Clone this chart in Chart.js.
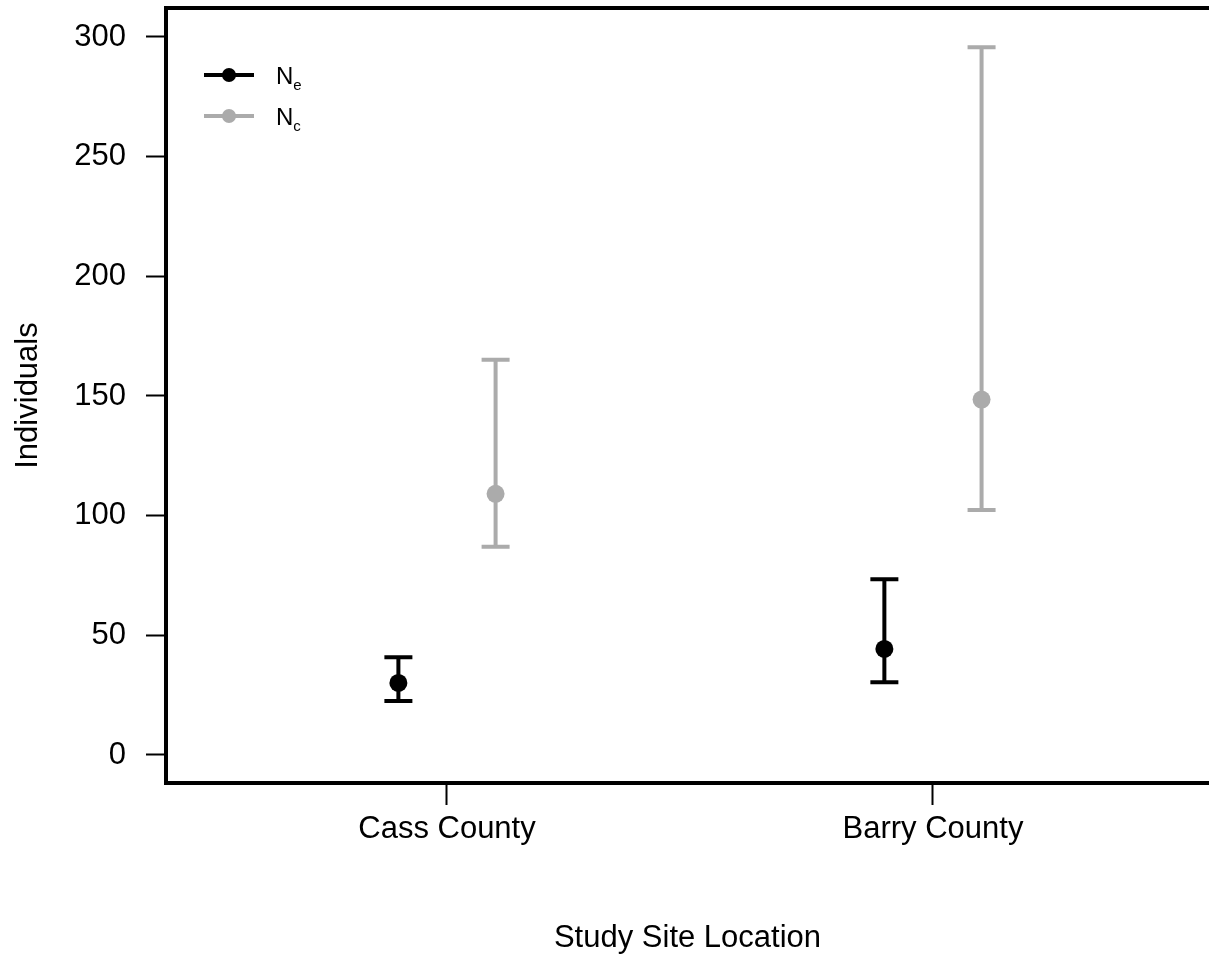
<!DOCTYPE html>
<html>
<head>
<meta charset="utf-8">
<script src="https://cdn.jsdelivr.net/npm/chart.js@4.4.1/dist/chart.umd.min.js"></script>
<style>
  html, body { margin: 0; padding: 0; background: #fff; }
  #wrap { position: relative; width: 1209px; height: 962px; }
</style>
</head>
<body>
<div id="wrap"><canvas id="chart"></canvas></div>
<script>
  // values
  const categories = ["Cass County", "Barry County"];
  const neMean = [30.1, 44.3];
  const neLow = [22.6, 30.4];
  const neHigh = [40.8, 73.4];
  const ncMean = [109.1, 148.5];
  const ncLow = [87.0, 102.4];
  const ncHigh = [165.1, 295.7];
  const yTicks = [0, 50, 100, 150, 200, 250, 300];

  const FONT = '"Liberation Sans", Arial, sans-serif';
  const BLACK = "#000000";
  const GREY = "#ababab";
  const OFFSET = 0.1; // dodge of the two series around each category

  const points = (mean, shift) => mean.map((v, i) => ({ x: i + 1 + shift, y: v }));

  const series = [
    { label: "e", color: BLACK, mean: neMean, low: neLow, high: neHigh, shift: -OFFSET },
    { label: "c", color: GREY, mean: ncMean, low: ncLow, high: ncHigh, shift: OFFSET },
  ];

  // error bars with caps, drawn under the points
  const errorBars = {
    id: "errorBars",
    beforeDatasetsDraw(chart) {
      const { ctx, scales: { x, y } } = chart;
      ctx.save();
      ctx.lineWidth = 4;
      series.forEach((s) => {
        ctx.strokeStyle = s.color;
        s.mean.forEach((_, i) => {
          const px = x.getPixelForValue(i + 1 + s.shift);
          const lo = y.getPixelForValue(s.low[i]);
          const hi = y.getPixelForValue(s.high[i]);
          ctx.beginPath();
          ctx.moveTo(px, lo);
          ctx.lineTo(px, hi);
          ctx.moveTo(px - 14, lo);
          ctx.lineTo(px + 14, lo);
          ctx.moveTo(px - 14, hi);
          ctx.lineTo(px + 14, hi);
          ctx.stroke();
        });
      });
      ctx.restore();
    },
  };

  // top frame line + legend with subscripts
  const frame = {
    id: "frame",
    afterDraw(chart) {
      const { ctx, chartArea: a } = chart;
      ctx.save();
      ctx.strokeStyle = BLACK;
      ctx.lineWidth = 4;
      ctx.beginPath();
      ctx.moveTo(a.left - 2, a.top);
      ctx.lineTo(a.right, a.top);
      ctx.stroke();

      series.forEach((s, k) => {
        const ly = a.top + 67 + k * 41;
        const lx = a.left + 38;
        ctx.strokeStyle = s.color;
        ctx.fillStyle = s.color;
        ctx.lineWidth = 4;
        ctx.beginPath();
        ctx.moveTo(lx, ly);
        ctx.lineTo(lx + 50, ly);
        ctx.stroke();
        ctx.beginPath();
        ctx.arc(lx + 25, ly, 7, 0, Math.PI * 2);
        ctx.fill();

        ctx.fillStyle = BLACK;
        ctx.textBaseline = "alphabetic";
        ctx.textAlign = "left";
        ctx.font = "24px " + FONT;
        ctx.fillText("N", lx + 72, ly + 9);
        const w = ctx.measureText("N").width;
        ctx.font = "15px " + FONT;
        ctx.fillText(s.label, lx + 72 + w, ly + 15);
      });
      ctx.restore();
    },
  };

  new Chart(document.getElementById("chart"), {
    type: "scatter",
    data: {
      datasets: series.map((s) => ({
        label: "N" + s.label,
        data: points(s.mean, s.shift),
        backgroundColor: s.color,
        borderColor: s.color,
        pointRadius: 9,
        pointHoverRadius: 9,
        borderWidth: 0,
        clip: false,
      })),
    },
    options: {
      responsive: true,
      maintainAspectRatio: false,
      animation: false,
      layout: { autoPadding: false, padding: { top: 8, right: 0, left: 0, bottom: 0 } },
      plugins: { legend: { display: false }, tooltip: { enabled: false } },
      scales: {
        x: {
          type: "linear",
          bounds: "data",
          min: 0.4218,
          max: 2.568,
          afterBuildTicks: (axis) => { axis.ticks = categories.map((_, i) => ({ value: i + 1 })); },
          afterFit: (axis) => {
            axis.height = 179;
            axis.paddingLeft = 0;
            axis.paddingRight = 0;
          },
          border: { color: BLACK, width: 4 },
          grid: { drawOnChartArea: false, drawTicks: true, tickLength: 22, tickWidth: 2, tickColor: BLACK },
          ticks: {
            color: BLACK,
            padding: 6,
            font: { family: FONT, size: 31 },
            callback: (v) => categories[Math.round(v) - 1],
          },
          title: {
            display: true,
            text: "Study Site Location",
            color: BLACK,
            font: { family: FONT, size: 31 },
            padding: { top: 0, bottom: 5 },
          },
        },
        y: {
          bounds: "data",
          min: -11.7,
          max: 312.1,
          afterBuildTicks: (axis) => { axis.ticks = yTicks.map((v) => ({ value: v })); },
          afterFit: (axis) => {
            axis.width = 166;
            axis.paddingTop = 0;
            axis.paddingBottom = 0;
          },
          border: { color: BLACK, width: 4 },
          grid: { drawOnChartArea: false, drawTicks: true, tickLength: 20, tickWidth: 2, tickColor: BLACK },
          ticks: {
            color: BLACK,
            padding: 20,
            font: { family: FONT, size: 31 },
          },
          title: {
            display: true,
            text: "Individuals",
            color: BLACK,
            font: { family: FONT, size: 31 },
            padding: { top: 10, bottom: 0 },
          },
        },
      },
    },
    plugins: [errorBars, frame],
  });
</script>
</body>
</html>
